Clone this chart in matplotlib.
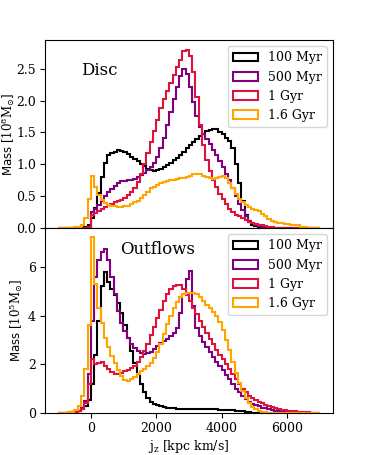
import numpy as np
import matplotlib
matplotlib.use("Agg")
import matplotlib.pyplot as plt

plt.rcParams["font.family"] = ["DejaVu Serif"]
plt.rcParams["mathtext.fontset"] = "dejavuserif"

# histogram bin edges in j_z [kpc km/s]
edges = np.arange(-1000, 7001, 100)

labels = ["100 Myr", "500 Myr", "1 Gyr", "1.6 Gyr"]
colors = ["black", "purple", "crimson", "orange"]

# Disc, mass in 1e8 Msun per bin
disc_100myr = [0, 0, 0, 0, 0, 0, 0, 0, 0.01, 0.05,
               0.15, 0.32, 0.55, 0.8, 1.02, 1.15, 1.18, 1.2, 1.22, 1.21,
               1.19, 1.16, 1.12, 1.08, 1.05, 1.01, 0.97, 0.93, 0.91, 0.9,
               0.91, 0.93, 0.96, 0.99, 1.02, 1.06, 1.1, 1.15, 1.2, 1.25,
               1.3, 1.35, 1.4, 1.44, 1.48, 1.52, 1.54, 1.56, 1.55, 1.5,
               1.47, 1.42, 1.36, 1.25, 1.0, 0.7, 0.42, 0.2, 0.1, 0.05,
               0.03, 0.02, 0.01, 0, 0, 0, 0, 0, 0, 0,
               0, 0, 0, 0, 0, 0, 0, 0, 0, 0]
disc_500myr = [0, 0, 0, 0, 0, 0, 0, 0, 0, 0.02,
               0.25, 0.3, 0.36, 0.43, 0.5, 0.56, 0.61, 0.66, 0.7, 0.73,
               0.74, 0.75, 0.76, 0.77, 0.8, 0.83, 0.87, 0.91, 0.95, 1.02,
               1.12, 1.25, 1.42, 1.62, 1.82, 2.02, 2.22, 2.38, 2.5, 2.42,
               2.22, 1.98, 1.75, 1.58, 1.48, 1.4, 1.32, 1.23, 1.15, 1.05,
               0.95, 0.85, 0.75, 0.62, 0.5, 0.38, 0.28, 0.18, 0.11, 0.07,
               0.05, 0.03, 0.02, 0.01, 0, 0, 0, 0, 0, 0,
               0, 0, 0, 0, 0, 0, 0, 0, 0, 0]
disc_1gyr = [0, 0, 0, 0, 0, 0, 0, 0, 0, 0.02,
             0.2, 0.23, 0.27, 0.3, 0.33, 0.36, 0.38, 0.4, 0.42, 0.44,
             0.47, 0.51, 0.56, 0.63, 0.72, 0.85, 1.0, 1.17, 1.35, 1.52,
             1.7, 1.88, 2.02, 2.15, 2.28, 2.4, 2.52, 2.64, 2.78, 2.8,
             2.7, 2.45, 2.05, 1.62, 1.3, 1.07, 0.9, 0.76, 0.64, 0.54,
             0.45, 0.37, 0.3, 0.25, 0.21, 0.18, 0.15, 0.12, 0.1, 0.08,
             0.06, 0.05, 0.04, 0.03, 0.02, 0.01, 0, 0, 0, 0,
             0, 0, 0, 0, 0, 0, 0, 0, 0, 0]
disc_16gyr = [0, 0, 0, 0, 0, 0.01, 0.02, 0.05, 0.15, 0.45,
              0.82, 0.65, 0.52, 0.44, 0.39, 0.36, 0.35, 0.34, 0.33, 0.33,
              0.34, 0.35, 0.37, 0.4, 0.43, 0.47, 0.52, 0.57, 0.62, 0.65,
              0.68, 0.7, 0.72, 0.74, 0.75, 0.76, 0.77, 0.78, 0.79, 0.8,
              0.82, 0.84, 0.85, 0.84, 0.82, 0.8, 0.78, 0.77, 0.78, 0.8,
              0.82, 0.78, 0.7, 0.62, 0.54, 0.46, 0.4, 0.36, 0.33, 0.3,
              0.28, 0.26, 0.22, 0.18, 0.14, 0.11, 0.09, 0.08, 0.07, 0.06,
              0.06, 0.05, 0.05, 0.04, 0.02, 0.01, 0, 0, 0, 0]

# Outflows, mass in 1e5 Msun per bin
out_100myr = [0, 0.01, 0.02, 0.03, 0.04, 0.06, 0.1, 0.15, 0.3, 0.55,
              1.2, 2.4, 3.8, 5.2, 5.8, 5.4, 5.1, 4.85, 4.5, 4.1,
              3.6, 3.1, 2.55, 2.05, 1.6, 1.2, 0.85, 0.62, 0.47, 0.38,
              0.32, 0.27, 0.23, 0.21, 0.2, 0.19, 0.18, 0.18, 0.17, 0.17,
              0.17, 0.16, 0.16, 0.16, 0.15, 0.15, 0.15, 0.16, 0.15, 0.14,
              0.13, 0.12, 0.12, 0.11, 0.1, 0.09, 0.08, 0.06, 0.04, 0.02,
              0.01, 0, 0, 0, 0, 0, 0, 0, 0, 0,
              0, 0, 0, 0, 0, 0, 0, 0, 0, 0]
out_500myr = [0, 0.01, 0.01, 0.02, 0.03, 0.05, 0.1, 0.2, 0.5, 1.6,
              3.8, 5.6, 6.3, 6.6, 6.75, 6.3, 5.6, 4.9, 4.2, 3.7,
              3.35, 3.1, 2.85, 2.65, 2.55, 2.48, 2.44, 2.45, 2.5, 2.62,
              2.75, 2.88, 2.97, 3.05, 3.15, 3.3, 3.5, 4.1, 4.9, 5.5,
              5.85, 4.4, 3.5, 3.15, 2.9, 2.7, 2.5, 2.3, 2.1, 1.92,
              1.75, 1.55, 1.38, 1.2, 1.0, 0.85, 0.7, 0.57, 0.47, 0.38,
              0.32, 0.27, 0.22, 0.19, 0.15, 0.12, 0.1, 0.08, 0.06, 0.05,
              0.04, 0.03, 0.02, 0.01, 0, 0, 0, 0, 0, 0]
out_1gyr = [0, 0.01, 0.01, 0.02, 0.03, 0.05, 0.08, 0.15, 0.4, 1.2,
            2.2, 2.0, 2.05, 2.1, 1.95, 1.8, 1.7, 1.62, 1.6, 1.65,
            1.72, 1.78, 1.85, 1.95, 2.1, 2.3, 2.55, 2.85, 3.2, 3.55,
            3.9, 4.25, 4.6, 4.9, 5.1, 5.2, 5.25, 5.25, 5.1, 4.85,
            4.6, 4.3, 4.05, 3.8, 3.55, 3.3, 3.05, 2.85, 2.6, 2.4,
            2.2, 2.0, 1.8, 1.6, 1.38, 1.18, 1.0, 0.85, 0.7, 0.6,
            0.52, 0.46, 0.4, 0.34, 0.28, 0.24, 0.2, 0.17, 0.14, 0.12,
            0.1, 0.08, 0.07, 0.06, 0.05, 0.04, 0.03, 0.02, 0.01, 0.01]
out_16gyr = [0, 0.01, 0.02, 0.04, 0.06, 0.12, 0.3, 0.7, 1.8, 3.6,
             7.25, 5.3, 4.3, 3.7, 3.1, 2.7, 2.35, 2.05, 1.75, 1.5,
             1.35, 1.33, 1.38, 1.48, 1.6, 1.72, 1.82, 1.92, 2.05, 2.25,
             2.5, 2.85, 3.25, 3.65, 4.0, 4.3, 4.55, 4.75, 4.9, 4.95,
             4.92, 4.95, 4.9, 4.75, 4.6, 4.45, 4.3, 4.15, 4.0, 3.75,
             3.4, 3.0, 2.6, 2.1, 1.65, 1.25, 0.9, 0.6, 0.4, 0.26,
             0.16, 0.1, 0.06, 0.04, 0.02, 0.01, 0, 0, 0, 0,
             0, 0, 0, 0, 0, 0, 0, 0, 0, 0]

disc = [disc_100myr, disc_500myr, disc_1gyr, disc_16gyr]
outflows = [out_100myr, out_500myr, out_1gyr, out_16gyr]

fig = plt.figure(figsize=(3.7, 4.55), dpi=100)
ax1 = fig.add_axes([0.1216, 0.499, 0.778, 0.413])
ax2 = fig.add_axes([0.1216, 0.0923, 0.778, 0.4066], sharex=ax1)

for ax, sets in [(ax1, disc), (ax2, outflows)]:
    for vals, lab, col in zip(sets, labels, colors):
        ax.hist(edges[:-1], bins=edges, weights=vals, histtype="step",
                color=col, linewidth=1.5, label=lab)
    ax.legend(loc="upper right", fontsize=9)
    ax.tick_params(labelsize=9, pad=3)

ax1.set_xlim(-1400, 7400)
ax1.set_ylim(0, 2.95)
ax2.set_ylim(0, 7.6)
ax1.set_yticks([0, 0.5, 1.0, 1.5, 2.0, 2.5])
ax2.set_yticks([0, 2, 4, 6])
ax2.set_xticks([0, 2000, 4000, 6000])
plt.setp(ax1.get_xticklabels(), visible=False)

ax1.text(0.19, 0.84, "Disc", transform=ax1.transAxes, fontsize=12, ha="center", va="center")
ax2.text(0.39, 0.885, "Outflows", transform=ax2.transAxes, fontsize=12, ha="center", va="center")

ax1.set_ylabel(r"$\mathsf{Mass}\ [10^8\mathrm{M}_{\odot}]$", fontsize=8.5)
ax2.set_ylabel(r"$\mathsf{Mass}\ [10^5\mathrm{M}_{\odot}]$", fontsize=8.5)
ax1.yaxis.set_label_coords(-0.097, 0.5)
ax2.yaxis.set_label_coords(-0.068, 0.5)
ax2.set_xlabel(r"$\mathrm{j_z}$ [kpc km/s]", fontsize=9, labelpad=2)

fig.savefig("out.png", dpi=100)
